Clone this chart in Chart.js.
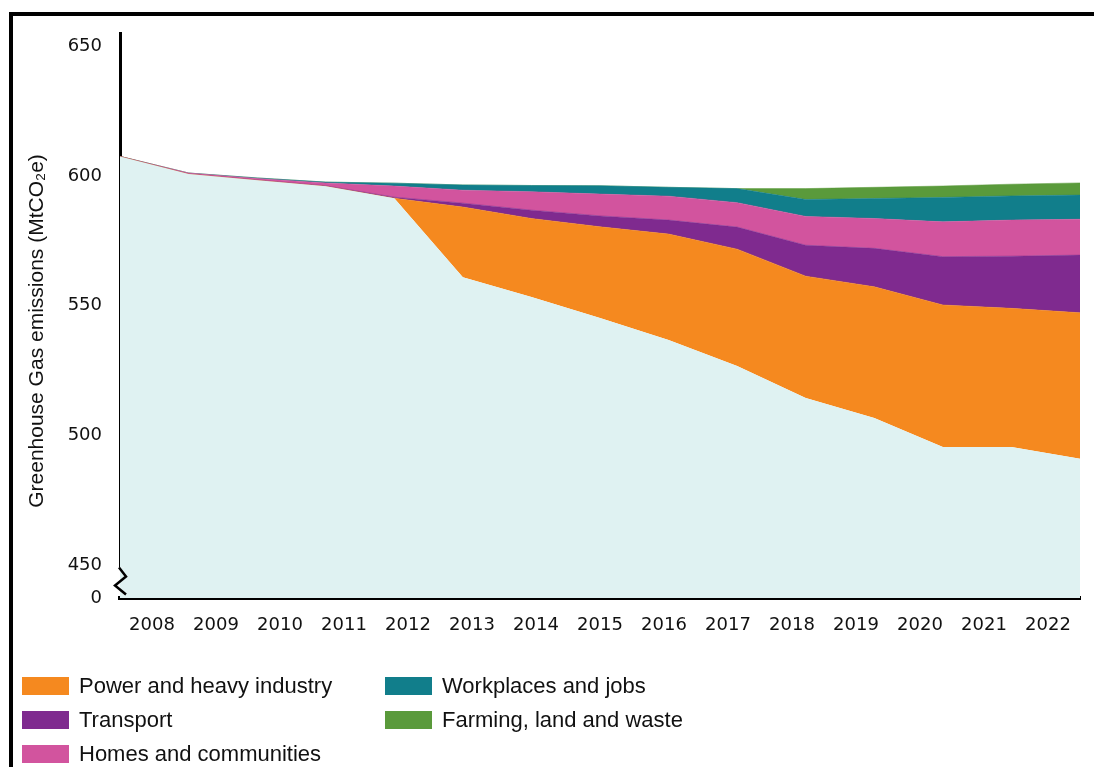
<!DOCTYPE html>
<html>
<head>
<meta charset="utf-8">
<script src="https://cdn.jsdelivr.net/npm/chart.js@4"></script>
<style>
  html, body { margin: 0; padding: 0; background: #fff; }
  body { width: 1094px; height: 767px; position: relative; overflow: hidden; }
  #frame { position: absolute; left: 9px; top: 12px; right: -10px; bottom: -10px;
           border-left: 4px solid #000; border-top: 4px solid #000; }
  #wrap { position: absolute; left: 0; top: 0; width: 1094px; height: 767px; }
  #legend { position: absolute; left: 22px; top: 676px; width: 700px;
            font-family: 'Liberation Sans', Arial, sans-serif; font-size: 22px; color: #111; }
  .item { position: absolute; display: flex; align-items: center; height: 20px; white-space: nowrap; }
  .item span.box { display: inline-block; width: 47px; height: 18px; margin-right: 10px; }
</style>
</head>
<body>
<div id="frame"></div>
<div id="wrap"><canvas id="chart"></canvas></div>
<div id="legend"></div>
<script>
// Données (MtCO2e)
const years = ['2008', '2009', '2010', '2011', '2012', '2013', '2014', '2015', '2016', '2017', '2018', '2019', '2020', '2021', '2022'];
const baseline   = [607.5, 600.7, 598.3, 596.0, 591.4, 561.0, 553.4, 545.3, 536.8, 526.8, 514.5, 506.8, 495.6, 495.6, 491.1];
const power      = [0, 0, 0, 0, 0, 27.0, 30.2, 35.1, 40.8, 45.0, 46.9, 50.5, 54.7, 53.4, 56.2];
const transport  = [0, 0, 0.1, 0.2, 0.4, 1.5, 3.2, 4.2, 5.4, 8.5, 11.9, 14.8, 18.6, 20.1, 22.2];
const homes      = [0, 0.4, 0.6, 1.1, 4.3, 5.0, 7.1, 8.4, 9.2, 9.4, 11.1, 11.5, 13.4, 13.9, 13.8];
const workplaces = [0, 0, 0.2, 0.3, 1.1, 2.0, 2.4, 3.2, 3.4, 5.4, 6.5, 7.7, 9.4, 9.3, 9.3];
const farming    = [0, 0, 0, 0, 0, 0, 0, 0, 0, 0, 4.2, 4.3, 4.4, 4.5, 4.7];

const seriesNames  = ['Power and heavy industry', 'Transport', 'Homes and communities', 'Workplaces and jobs', 'Farming, land and waste'];
const seriesColors = ['#f5891f', '#7f2a8f', '#d2549e', '#117e8b', '#5a9a3b'];
const baseColor = '#dff2f2';

const yTickValues = [450, 500, 550, 600, 650];
const yBreakLabel = '0';
const yMin = 437.5;
const yMax = 655;
const yTitle = 'Greenhouse Gas emissions (MtCO\u2082e)';

const tickFont = { family: "'DejaVu Sans', Verdana, sans-serif", size: 18 };

const datasets = [{
    label: 'Base',
    data: baseline,
    backgroundColor: baseColor,
    borderWidth: 0,
    pointRadius: 0,
    fill: 'start'
}];
[power, transport, homes, workplaces, farming].forEach((serie, i) => {
    datasets.push({
        label: seriesNames[i],
        data: serie,
        backgroundColor: seriesColors[i],
        borderColor: seriesColors[i],
        borderWidth: 0.5,
        pointRadius: 0,
        fill: '-1'
    });
});

// Cassure de l'axe Y + titre vertical
const axisDecor = {
    id: 'axisDecor',
    afterDraw(chart) {
        const ctx = chart.ctx;
        const area = chart.chartArea;
        const y450 = chart.scales.y.getPixelForValue(450);
        ctx.save();
        ctx.fillStyle = '#fff';
        ctx.fillRect(area.left - 4, y450 + 2, 8, area.bottom - y450 - 4);
        ctx.fillStyle = baseColor;
        ctx.fillRect(area.left, y450 + 2, 4, area.bottom - y450 - 4);
        ctx.strokeStyle = '#000';
        ctx.lineWidth = 2.5;
        ctx.beginPath();
        ctx.moveTo(area.left - 1, y450 + 2);
        ctx.lineTo(area.left + 6, y450 + 11);
        ctx.lineTo(area.left - 5, y450 + 20);
        ctx.lineTo(area.left + 6, y450 + 29);
        ctx.stroke();

        ctx.translate(37, 331);
        ctx.rotate(-Math.PI / 2);
        ctx.fillStyle = '#111';
        ctx.font = "21px 'Liberation Sans', Arial, sans-serif";
        ctx.textAlign = 'center';
        ctx.textBaseline = 'middle';
        ctx.fillText(yTitle, 0, 0);
        ctx.restore();
    }
};

const config = {
    type: 'line',
    data: { labels: years, datasets: datasets },
    options: {
        responsive: true,
        maintainAspectRatio: false,
        animation: false,
        layout: { padding: { left: 0, top: 33, right: 14, bottom: 124 } },
        elements: { line: { tension: 0 } },
        plugins: { legend: { display: false }, tooltip: { enabled: false } },
        scales: {
            x: {
                type: 'category',
                offset: false,
                display: false
            },
            x2: {
                type: 'category',
                labels: years,
                offset: true,
                position: 'bottom',
                z: 1,
                grid: { display: false, drawTicks: false },
                border: { display: true, color: '#000', width: 4 },
                ticks: { color: '#111', font: tickFont, padding: 17, maxRotation: 0, autoSkip: false },
                afterFit: scale => { scale.height = 45; }
            },
            y: {
                stacked: true,
                min: yMin,
                max: yMax,
                z: 1,
                grid: { display: false, drawTicks: false },
                border: { display: true, color: '#000', width: 3 },
                ticks: {
                    color: '#111',
                    font: tickFont,
                    padding: 18,
                    autoSkip: false,
                    callback: value => (value === yMin ? yBreakLabel : String(value))
                },
                afterBuildTicks: axis => {
                    axis.ticks = [yMin].concat(yTickValues).map(v => ({ value: v }));
                },
                afterFit: scale => { scale.width = 120; }
            }
        }
    },
    plugins: [axisDecor]
};

const chart = new Chart(document.getElementById('chart'), config);

// Légende sur deux colonnes
const legend = document.getElementById('legend');
const legendPos = [[0, 0], [0, 34], [0, 68], [363, 0], [363, 34]];
seriesNames.forEach((name, i) => {
    const item = document.createElement('div');
    item.className = 'item';
    item.style.left = legendPos[i][0] + 'px';
    item.style.top = legendPos[i][1] + 'px';
    item.innerHTML = `<span class="box" style="background:${seriesColors[i]}"></span>${name}`;
    legend.appendChild(item);
});
</script>
</body>
</html>
